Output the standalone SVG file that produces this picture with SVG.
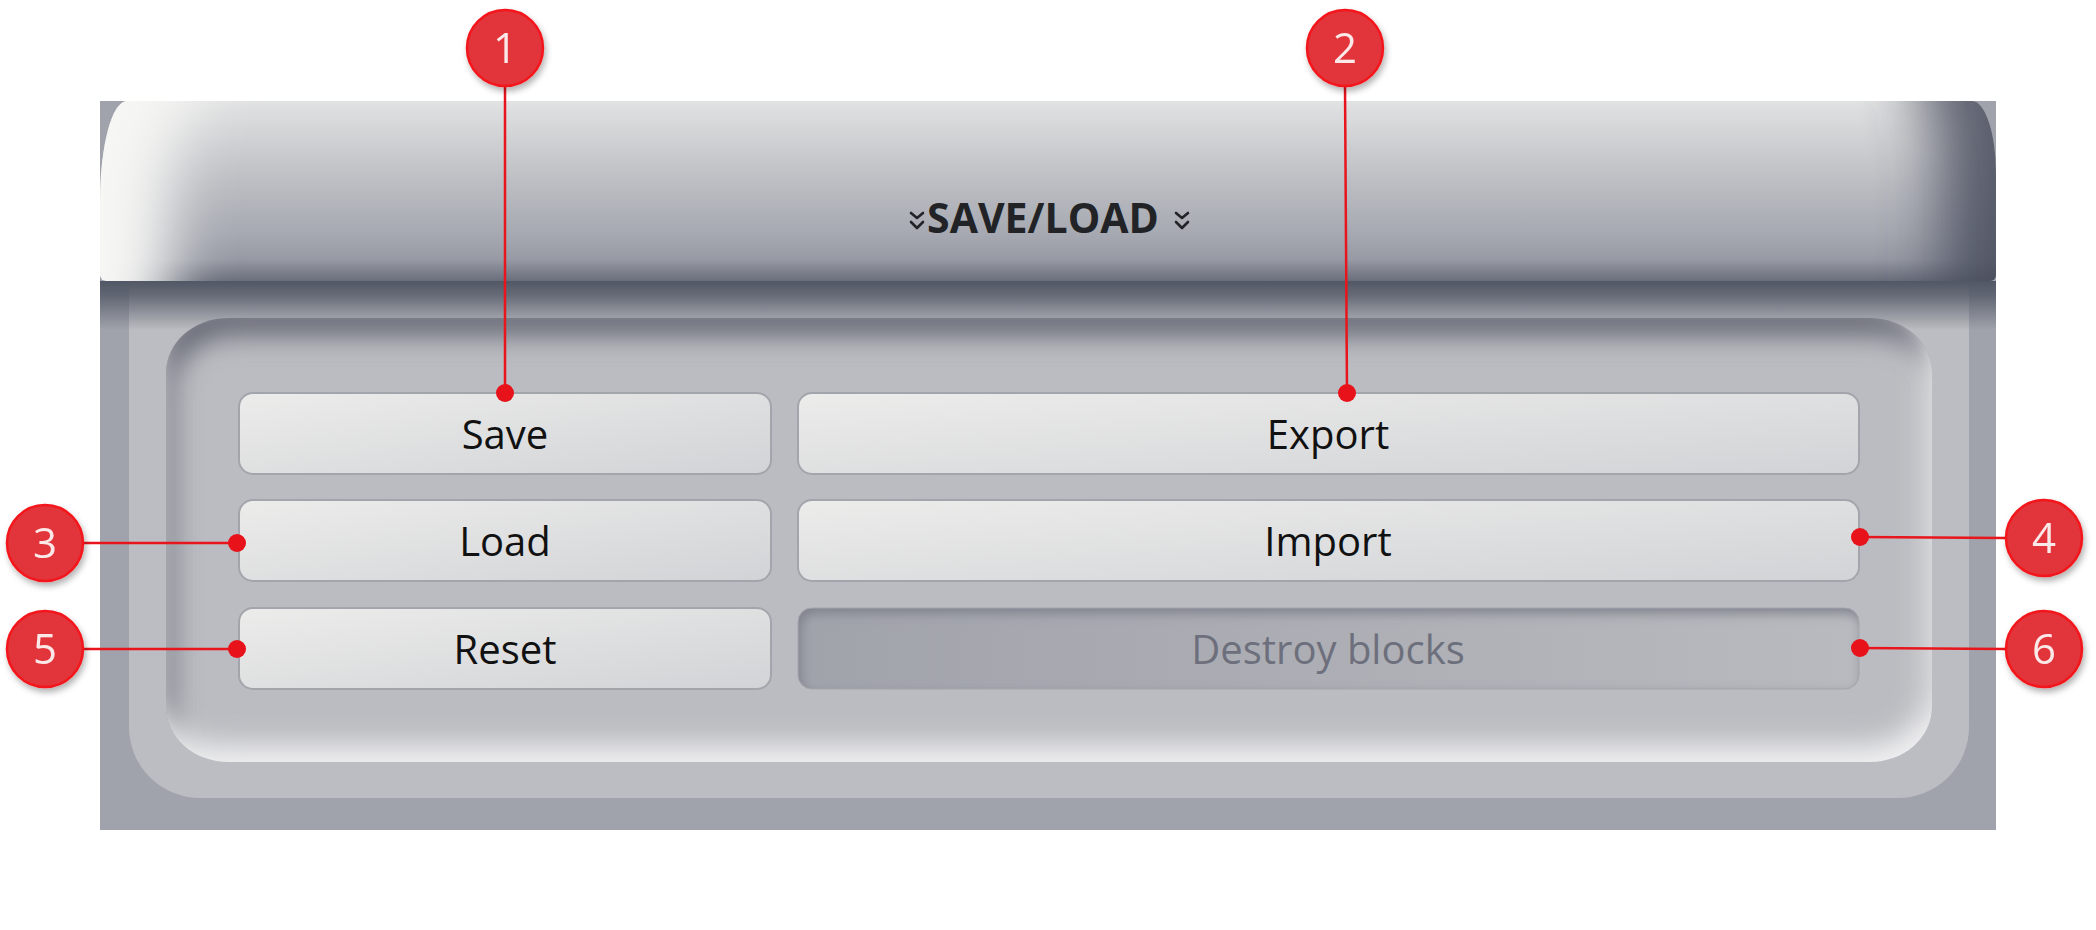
<svg xmlns="http://www.w3.org/2000/svg" width="2096" height="930" viewBox="0 0 2096 930">
<style>
.btn-text{font-family:"Open Sans","Liberation Sans",sans-serif;font-size:40px;fill:#111;text-anchor:middle}
.btn-text.dis{fill:#6d707c}
.title{font-family:"Open Sans","Liberation Sans",sans-serif;font-size:41px;font-weight:700;fill:#222326;text-anchor:middle}
.num{font-family:"Open Sans","Liberation Sans",sans-serif;font-size:42px;fill:#fbe8e8;text-anchor:middle}
.badge{fill:#e2353a;stroke:#f3161b;stroke-width:2.5}
.lead{stroke:#e8151c;stroke-width:2.5;fill:none}
.dot{fill:#e8121a}
.btn{fill:url(#btnGrad);stroke:#a3a5ac;stroke-width:2}
.chev{fill:none;stroke:#222326;stroke-width:2.6;stroke-linecap:round;stroke-linejoin:round}
</style>
<defs>
<linearGradient id="hdrV" x1="0" y1="101" x2="0" y2="281" gradientUnits="userSpaceOnUse">
<stop offset="0" stop-color="#e1e2e2"/>
<stop offset="0.45" stop-color="#bcbec3"/>
<stop offset="0.75" stop-color="#a5a8b0"/>
<stop offset="0.88" stop-color="#979aa4"/>
<stop offset="1" stop-color="#6a6e7b"/>
</linearGradient>
<linearGradient id="hdrShadow" x1="0" y1="281" x2="0" y2="330" gradientUnits="userSpaceOnUse">
<stop offset="0" stop-color="#525765" stop-opacity="1"/>
<stop offset="0.3" stop-color="#525765" stop-opacity="0.8"/>
<stop offset="1" stop-color="#525765" stop-opacity="0"/>
</linearGradient>
<linearGradient id="btnGrad" x1="0" y1="0" x2="1" y2="1">
<stop offset="0" stop-color="#ececeb"/>
<stop offset="1" stop-color="#d2d3d6"/>
</linearGradient>
<linearGradient id="disGrad" x1="0" y1="0" x2="1" y2="0">
<stop offset="0" stop-color="#a1a3ab"/>
<stop offset="1" stop-color="#b9babf"/>
</linearGradient>
<clipPath id="hdrClip"><path d="M127,101 H1972 A24 72 0 0 1 1996,173 V275 A6 6 0 0 1 1990,281 H106 A6 6 0 0 1 100,275 V201 A27 100 0 0 1 127,101 Z"/></clipPath>
<clipPath id="wellClip"><rect x="166" y="318" width="1766" height="444" rx="62" ry="55"/></clipPath>
<clipPath id="disClip"><rect x="798" y="608" width="1061" height="81" rx="14"/></clipPath>
<filter id="blur14" x="-10%" y="-30%" width="120%" height="160%"><feGaussianBlur stdDeviation="14"/></filter>
<filter id="blurL" x="-50%" y="-50%" width="200%" height="200%"><feGaussianBlur stdDeviation="30"/></filter>
<filter id="blur6" x="-10%" y="-50%" width="120%" height="200%"><feGaussianBlur stdDeviation="6"/></filter>
<filter id="badgeShadow" x="-40%" y="-40%" width="180%" height="180%">
<feDropShadow dx="2" dy="4" stdDeviation="3" flood-color="#000" flood-opacity="0.3"/>
</filter>
</defs>

<rect width="2096" height="930" fill="#ffffff"/>

<g id="panel">
<rect x="100" y="101" width="1896" height="729" fill="#a0a3ab"/>
<path d="M129,281 H1969 V727 A71 71 0 0 1 1898,798 H200 A71 71 0 0 1 129,727 Z" fill="#bcbdc2"/>
<rect x="100" y="281" width="1896" height="49" fill="url(#hdrShadow)"/>
</g>

<g id="well">
<rect x="166" y="318" width="1766" height="444" rx="62" ry="55" fill="#bbbcc1"/>
<g clip-path="url(#wellClip)">
<path fill-rule="evenodd" fill="#5f626e" filter="url(#blur14)" transform="translate(6,16)" d="M40,200 H2060 V900 H40 Z M166,373 A62 55 0 0 1 228,318 H1870 A62 55 0 0 1 1932,373 V707 A62 55 0 0 1 1870,762 H228 A62 55 0 0 1 166,707 Z"/>
<path fill-rule="evenodd" fill="#f2f2f3" filter="url(#blur14)" transform="translate(-6,-16)" d="M40,200 H2060 V900 H40 Z M166,373 A62 55 0 0 1 228,318 H1870 A62 55 0 0 1 1932,373 V707 A62 55 0 0 1 1870,762 H228 A62 55 0 0 1 166,707 Z"/>
</g>
</g>

<g id="header">
<path d="M127,101 H1972 A24 72 0 0 1 1996,173 V275 A6 6 0 0 1 1990,281 H106 A6 6 0 0 1 100,275 V201 A27 100 0 0 1 127,101 Z" fill="url(#hdrV)"/>
<g clip-path="url(#hdrClip)">
<path fill="#f6f6f4" filter="url(#blurL)" transform="translate(70,0)" d="M-200,-100 H127 V101 A27 100 0 0 0 100,201 V420 H-200 Z"/>
<path fill="#474c5b" opacity="0.85" filter="url(#blurL)" transform="translate(-55,0)" d="M1972,-100 H2300 V420 H1996 V173 A24 72 0 0 0 1972,101 Z"/>
</g>
<text class="title" x="1043" y="233">SAVE/LOAD</text>
<path class="chev" d="M911,213 L917,218 L923,213 M911,222 L917,228 L923,222"/>
<path class="chev" d="M1176,213 L1182,218 L1188,213 M1176,222 L1182,228 L1188,222"/>
</g>

<g id="btn-save">
<rect class="btn" x="239" y="393" width="532" height="81" rx="14"/>
<text class="btn-text" x="505" y="449">Save</text>
</g>
<g id="btn-export">
<rect class="btn" x="798" y="393" width="1061" height="81" rx="14"/>
<text class="btn-text" x="1328" y="449">Export</text>
</g>
<g id="btn-load">
<rect class="btn" x="239" y="500" width="532" height="81" rx="14"/>
<text class="btn-text" x="505" y="556">Load</text>
</g>
<g id="btn-import">
<rect class="btn" x="798" y="500" width="1061" height="81" rx="14"/>
<text class="btn-text" x="1328" y="556">Import</text>
</g>
<g id="btn-reset">
<rect class="btn" x="239" y="608" width="532" height="81" rx="14"/>
<text class="btn-text" x="505" y="664">Reset</text>
</g>
<g id="btn-destroy">
<rect x="798" y="608" width="1061" height="81" rx="14" fill="url(#disGrad)"/>
<g clip-path="url(#disClip)">
<path fill-rule="evenodd" fill="#7e818c" filter="url(#blur6)" transform="translate(3,5)" d="M760,580 H1900 V720 H760 Z M812,608 H1845 A14 14 0 0 1 1859,622 V675 A14 14 0 0 1 1845,689 H812 A14 14 0 0 1 798,675 V622 A14 14 0 0 1 812,608 Z"/>
</g>
<rect x="798" y="608" width="1061" height="81" rx="14" fill="none" stroke="#a4a6ad" stroke-width="1"/>
<text class="btn-text dis" x="1328" y="664">Destroy blocks</text>
</g>

<g id="connectors">
<line class="lead" x1="505" y1="86" x2="505" y2="393"/>
<line class="lead" x1="1345" y1="86" x2="1347" y2="393"/>
<line class="lead" x1="83" y1="543" x2="237" y2="543"/>
<line class="lead" x1="1860" y1="537" x2="2006" y2="538"/>
<line class="lead" x1="83" y1="649" x2="237" y2="649"/>
<line class="lead" x1="1860" y1="648" x2="2006" y2="649"/>
<circle class="dot" cx="505" cy="393" r="9"/>
<circle class="dot" cx="1347" cy="393" r="9"/>
<circle class="dot" cx="237" cy="543" r="9"/>
<circle class="dot" cx="1860" cy="537" r="9"/>
<circle class="dot" cx="237" cy="649" r="9"/>
<circle class="dot" cx="1860" cy="648" r="9"/>
</g>

<g id="callout-1" filter="url(#badgeShadow)">
<circle class="badge" cx="505" cy="48" r="38"/>
<text class="num" x="505" y="63">1</text>
</g>
<g id="callout-2" filter="url(#badgeShadow)">
<circle class="badge" cx="1345" cy="48" r="38"/>
<text class="num" x="1345" y="63">2</text>
</g>
<g id="callout-3" filter="url(#badgeShadow)">
<circle class="badge" cx="45" cy="543" r="38"/>
<text class="num" x="45" y="558">3</text>
</g>
<g id="callout-4" filter="url(#badgeShadow)">
<circle class="badge" cx="2044" cy="538" r="38"/>
<text class="num" x="2044" y="553">4</text>
</g>
<g id="callout-5" filter="url(#badgeShadow)">
<circle class="badge" cx="45" cy="649" r="38"/>
<text class="num" x="45" y="664">5</text>
</g>
<g id="callout-6" filter="url(#badgeShadow)">
<circle class="badge" cx="2044" cy="649" r="38"/>
<text class="num" x="2044" y="664">6</text>
</g>
</svg>
